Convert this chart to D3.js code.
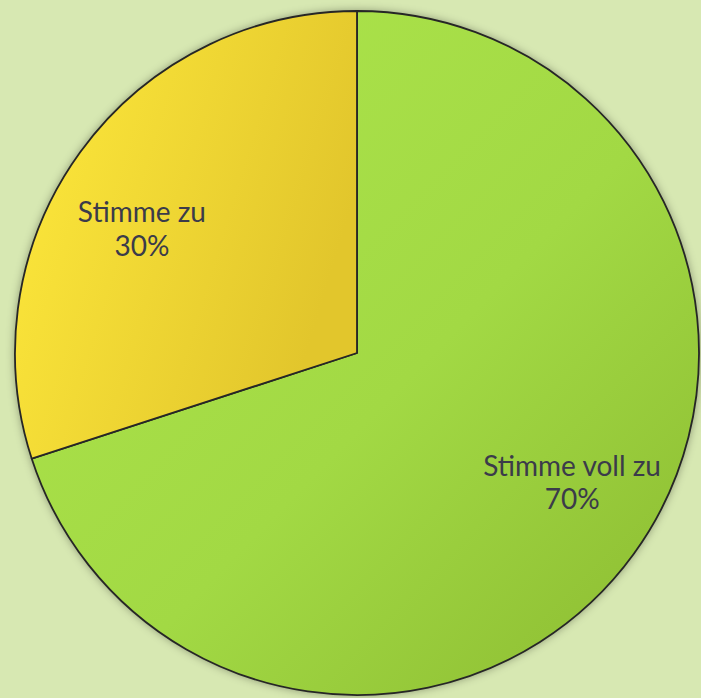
<!DOCTYPE html>
<html><head><meta charset="utf-8">
<script src="https://cdn.jsdelivr.net/npm/d3@7"></script>
<style>html,body{margin:0;padding:0;background:#d7e8b2;}svg{display:block;}</style>
</head><body>
<script>
const categories = ["Stimme voll zu", "Stimme zu"];
const values = [70, 30];
const percentLabels = ["70%", "30%"];

const W = 701, H = 698;
const cx = 357, cy = 353, R = 342;

const svg = d3.select("body").append("svg").attr("width", W).attr("height", H);
const defs = svg.append("defs");

const gGreen = defs.append("linearGradient").attr("id", "gGreen")
  .attr("x1", "0%").attr("y1", "0%").attr("x2", "100%").attr("y2", "100%");
gGreen.append("stop").attr("offset", "0%").attr("stop-color", "#aee64c");
gGreen.append("stop").attr("offset", "55%").attr("stop-color", "#a2d944");
gGreen.append("stop").attr("offset", "100%").attr("stop-color", "#8bba30");

const gYellow = defs.append("linearGradient").attr("id", "gYellow")
  .attr("x1", "0%").attr("y1", "0%").attr("x2", "100%").attr("y2", "40%");
gYellow.append("stop").attr("offset", "0%").attr("stop-color", "#ffea3c");
gYellow.append("stop").attr("offset", "100%").attr("stop-color", "#e2c62c");

const shadow = defs.append("filter").attr("id", "shadow")
  .attr("x", "-10%").attr("y", "-10%").attr("width", "120%").attr("height", "120%");
shadow.append("feDropShadow").attr("dx", 0).attr("dy", 0).attr("stdDeviation", 5)
  .attr("flood-color", "#000").attr("flood-opacity", 0.4);

const fills = ["url(#gGreen)", "url(#gYellow)"];

const pie = d3.pie().sort(null).value(d => d)(values);
const arc = d3.arc().innerRadius(0).outerRadius(R);
const labelR = R * 0.73;

const g = svg.append("g").attr("transform", `translate(${cx},${cy})`);

g.append("circle").attr("r", R).attr("fill", "#a2d944").attr("filter", "url(#shadow)");

g.selectAll("path.slice").data(pie).enter().append("path")
  .attr("class", "slice")
  .attr("d", arc)
  .attr("fill", (d, i) => fills[i])
  .attr("stroke", "#262626")
  .attr("stroke-width", 1.8)
  .attr("stroke-linejoin", "round");

// label angle: mid angle pulled slightly toward the horizontal (as Excel best-fit does)
function labelPos(d) {
  let a = (d.startAngle + d.endAngle) / 2;
  const norm = ((a % (2 * Math.PI)) + 2 * Math.PI) % (2 * Math.PI);
  const target = norm < Math.PI ? Math.PI / 2 : 3 * Math.PI / 2;
  a = norm + Math.sign(target - norm) * (5.5 * Math.PI / 180);
  return [Math.sin(a) * labelR, -Math.cos(a) * labelR];
}

const labels = g.selectAll("text.lbl").data(pie).enter().append("text")
  .attr("class", "lbl")
  .attr("transform", d => {
    const [x, y] = labelPos(d);
    return `translate(${x},${y})`;
  })
  .attr("text-anchor", "middle")
  .attr("font-family", "Lato, 'Open Sans', sans-serif")
  .attr("font-size", 28)
  .attr("fill", "#3b3b4a");

labels.append("tspan").attr("x", 0).attr("dy", "-0.15em").text((d, i) => categories[i]);
labels.append("tspan").attr("x", 0).attr("dy", "1.2em").text((d, i) => percentLabels[i]);
</script>
</body></html>
